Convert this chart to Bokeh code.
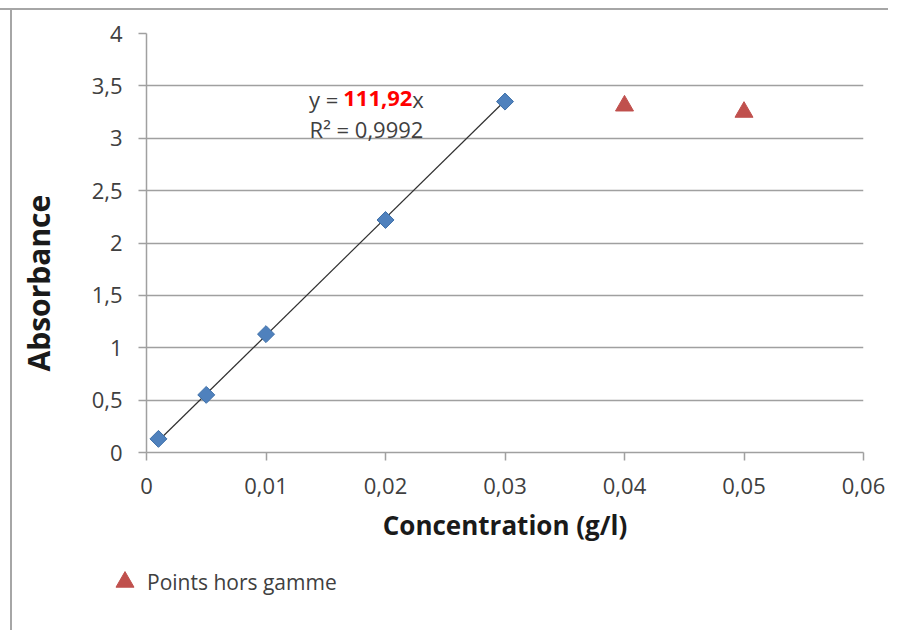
from bokeh.plotting import figure
from bokeh.layouts import column
from bokeh.models import Range1d, FixedTicker, Label, Legend, LegendItem, Title
from bokeh.embed import file_html
from bokeh.resources import INLINE
import numpy as np

# ---- data ----
conc = [0.001, 0.005, 0.01, 0.02, 0.03]
absorb = [0.13, 0.55, 1.13, 2.22, 3.35]
out_conc = [0.04, 0.05]
out_abs = [3.31, 3.25]
slope = 111.92
r2 = 0.9992
x_ticks = [0, 0.01, 0.02, 0.03, 0.04, 0.05, 0.06]
x_tick_labels = ["0", "0,01", "0,02", "0,03", "0,04", "0,05", "0,06"]
y_ticks = [0, 0.5, 1, 1.5, 2, 2.5, 3, 3.5, 4]
y_tick_labels = ["0", "0,5", "1", "1,5", "2", "2,5", "3", "3,5", "4"]
legend_label = "Points hors gamme"
x_title = "Concentration (g/l)"
y_title = "Absorbance"

FONT = "Open Sans"
GRID = "#a0a0a0"
TXT = "#404040"


def edge(px):
    return (f"linear-gradient(to right, transparent {px}px, #a6a6a6 {px}px, "
            f"#a6a6a6 {px + 2}px, transparent {px + 2}px)")


p = figure(output_backend="svg", toolbar_location=None,
           frame_width=717, frame_height=417,
           min_border_left=160, min_border_right=25,
           min_border_top=23, min_border_bottom=105,
           x_range=Range1d(0, 0.06), y_range=Range1d(0, 4))
p.styles = {"margin-left": "-14px", "margin-top": "8px",
            "border-top": "2px solid #a6a6a6", "background": edge(24)}
p.outline_line_color = None
p.background_fill_color = "white"
p.border_fill_alpha = 0

# axes
for ax in (p.xaxis[0], p.yaxis[0]):
    ax.axis_line_color = GRID
    ax.axis_line_width = 1.5
    ax.major_tick_line_color = GRID
    ax.major_tick_line_width = 1.5
    ax.major_tick_in = 0
    ax.major_tick_out = 8
    ax.minor_tick_line_color = None
    ax.major_label_text_font = FONT
    ax.major_label_text_font_size = "22px"
    ax.major_label_text_color = TXT
    ax.axis_label_text_font = FONT
    ax.axis_label_text_font_style = "bold"
    ax.axis_label_text_color = "#1a1a1a"

p.xaxis.ticker = FixedTicker(ticks=x_ticks)
p.xaxis.major_label_overrides = dict(zip(x_ticks, x_tick_labels))
p.yaxis.ticker = FixedTicker(ticks=y_ticks)
p.yaxis.major_label_overrides = dict(zip(y_ticks, y_tick_labels))
p.xaxis.major_label_standoff = 17
p.yaxis.major_label_standoff = 16
p.xaxis.axis_label = x_title
p.xaxis.axis_label_text_font_size = "26px"
p.xaxis.axis_label_standoff = 10

# y-axis title as a side-panel title, shifted below the frame centre as in the reference
p.add_layout(Title(text=y_title, align="left", offset=81, vertical_align="top",
                   standoff=55, text_font=FONT, text_font_size="30px",
                   text_font_style="bold", text_color="#1a1a1a"), "left")

p.xgrid.grid_line_color = None
p.ygrid.grid_line_color = GRID
p.ygrid.grid_line_width = 1.5

# trendline through origin over the fitted range
tx = np.array([min(conc), max(conc)])
p.line(tx, slope * tx, line_color="#303030", line_width=1.2)

# fitted points (diamonds)
p.scatter(conc, absorb, marker="square", angle=np.pi / 4, size=12,
          fill_color="#4f81bd", line_color="#3d6fa8", line_width=1)

# out-of-range points (triangles)
tri_style = dict(marker="triangle", size=18, fill_color="#c0504d", line_color="#c0504d")
p.scatter(out_conc, out_abs, **tri_style)

# equation labels
eq_x = 0.0163
eq_y1 = 3.377
eq_y2 = 3.089
slope_txt = f"{slope:.2f}".replace(".", ",")
r2_txt = f"{r2:.4f}".replace(".", ",")
p.add_layout(Label(x=eq_x, y=eq_y1, text="y =", text_align="right", text_baseline="middle",
                   x_offset=-3, text_font=FONT, text_font_size="22px", text_color=TXT))
p.add_layout(Label(x=eq_x, y=eq_y1, text=slope_txt, text_align="left", text_baseline="middle",
                   x_offset=2, text_font=FONT, text_font_size="22px", text_color="#ff0000",
                   text_font_style="bold"))
p.add_layout(Label(x=eq_x, y=eq_y1, text="x", text_align="left", text_baseline="middle",
                   x_offset=71, text_font=FONT, text_font_size="22px", text_color=TXT))
p.add_layout(Label(x=0.01841, y=eq_y2, text="R² = " + r2_txt, text_align="center",
                   text_baseline="middle", text_font=FONT, text_font_size="22px",
                   text_color=TXT))

# legend strip below the chart (its frame holds the legend so it is not clipped)
leg = figure(output_backend="svg", toolbar_location=None,
             width=960, height=75, min_border=0,
             x_axis_type=None, y_axis_type=None,
             x_range=Range1d(0, 1), y_range=Range1d(10, 11))
leg.styles = {"margin-left": "-58px", "background": edge(68)}
leg.outline_line_color = None
leg.background_fill_alpha = 0
leg.border_fill_alpha = 0
leg_tri = leg.scatter(out_conc, out_abs, **tri_style)  # outside leg's range: legend glyph only

legend = Legend(items=[LegendItem(label=legend_label, renderers=[leg_tri])],
                location=(0, 26), padding=0, margin=0, spacing=0,
                glyph_width=45, glyph_height=45, label_standoff=-12,
                border_line_color=None, background_fill_alpha=0,
                label_text_font=FONT, label_text_font_size="21px",
                label_text_color=TXT)
leg.add_layout(legend, "center")

layout = column(p, leg, spacing=0)
open("out.html", "w").write(file_html(layout, INLINE))
